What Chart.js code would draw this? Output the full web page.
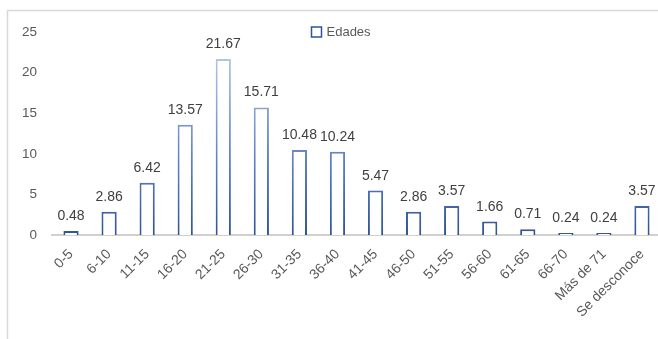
<!DOCTYPE html>
<html>
<head>
<meta charset="utf-8">
<script src="https://cdn.jsdelivr.net/npm/chart.js@4/dist/chart.umd.min.js"></script>
<style>
html,body{margin:0;padding:0;background:#fff;overflow:hidden;width:658px;height:339px;}
canvas{display:block;}
</style>
</head>
<body>
<canvas id="c" width="670" height="339"></canvas>
<script>
const categories = ["0-5","6-10","11-15","16-20","21-25","26-30","31-35","36-40","41-45","46-50","51-55","56-60","61-65","66-70","Más de 71","Se desconoce"];
const edades = [0.48,2.86,6.42,13.57,21.67,15.71,10.48,10.24,5.47,2.86,3.57,1.66,0.71,0.24,0.24,3.57];
const seriesLabel = "Edades";
const yTicks = [0,5,10,15,20,25];

const FONT = '"Liberation Sans",Arial,sans-serif';
const DARK = '#2F5597';
const LIGHT = '#C9D7EF';

function gradFor(chart){
  const a = chart.chartArea;
  if(!a) return DARK;
  const g = chart.ctx.createLinearGradient(0, a.bottom, 0, a.top);
  g.addColorStop(0, DARK);
  g.addColorStop(0.35, '#5B7FC0');
  g.addColorStop(1, LIGHT);
  return g;
}

const framePlugin = {
  id:'frame',
  beforeDraw(chart){
    const c = chart.ctx;
    c.save();
    c.strokeStyle = '#d9d9d9';
    c.lineWidth = 1.5;
    c.beginPath();
    c.moveTo(7.5, 339);
    c.lineTo(7.5, 10.5);
    c.lineTo(chart.width, 10.5);
    c.stroke();
    c.restore();
  }
};

const labelPlugin = {
  id:'vals',
  afterDatasetsDraw(chart){
    const c = chart.ctx;
    const meta = chart.getDatasetMeta(0);
    c.save();
    c.font = '14px ' + FONT;
    c.fillStyle = '#404040';
    c.textAlign = 'center';
    c.textBaseline = 'alphabetic';
    meta.data.forEach((el,i)=>{
      c.fillText(edades[i].toFixed(2), el.x, el.y - 11);
    });
    c.restore();
  }
};

const legendPlugin = {
  id:'customLegend',
  afterDraw(chart){
    const c = chart.ctx;
    c.save();
    c.font = '13px ' + FONT;
    const tw = c.measureText(seriesLabel).width;
    const box = 10, gap = 5;
    const total = box + gap + tw;
    const cx = 341;
    const x0 = Math.round(cx - total/2) + 0.5;
    const yc = 32;
    c.fillStyle = '#fff';
    c.fillRect(x0, yc - box/2, box, box);
    c.strokeStyle = DARK;
    c.lineWidth = 1.5;
    c.strokeRect(x0, yc - box/2, box, box);
    c.fillStyle = '#595959';
    c.textBaseline = 'middle';
    c.textAlign = 'left';
    c.fillText(seriesLabel, x0 + box + gap, yc + 0.5);
    c.restore();
  }
};

new Chart(document.getElementById('c'), {
  type:'bar',
  data:{
    labels:categories,
    datasets:[{
      label:seriesLabel,
      data:edades,
      backgroundColor:'#ffffff',
      borderColor:(ctx)=>gradFor(ctx.chart),
      borderWidth:2,
      barPercentage:0.4,
      categoryPercentage:1.0
    }]
  },
  options:{
    responsive:false,
    animation:false,
    devicePixelRatio:1,
    layout:{padding:{left:0,right:9,top:32,bottom:0}},
    plugins:{legend:{display:false},tooltip:{enabled:false}},
    scales:{
      x:{
        grid:{display:false,drawTicks:false},
        border:{display:true,color:'#d0d0d0',width:2},
        ticks:{
          color:'#595959',
          font:{family:FONT,size:14},
          minRotation:45,maxRotation:45,
          padding:11,
          autoSkip:false
        },
        afterFit(s){ s.height = 104; }
      },
      y:{
        min:0,max:25,
        grid:{display:false,drawTicks:false},
        border:{display:false},
        afterBuildTicks(s){ s.ticks = yTicks.map(v=>({value:v})); },
        ticks:{
          color:'#595959',
          font:{family:FONT,size:13.5},
          padding:15
        },
        afterFit(s){ s.width = 52; }
      }
    }
  },
  plugins:[framePlugin,labelPlugin,legendPlugin]
});
</script>
</body>
</html>
